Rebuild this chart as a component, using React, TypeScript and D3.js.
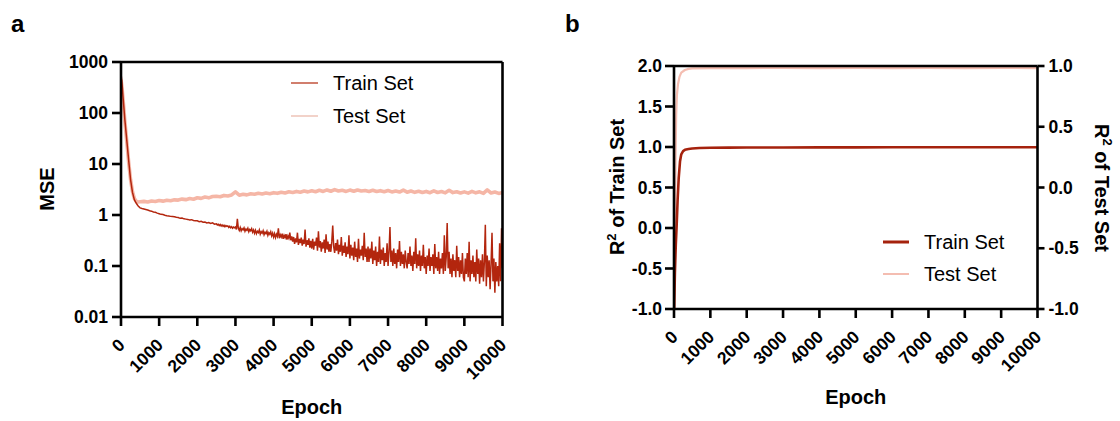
import React from 'react';
import * as d3 from 'd3';

// ---------- tick labels ----------
const epochTicks = [0, 1000, 2000, 3000, 4000, 5000, 6000, 7000, 8000, 9000, 10000];
const mseTicks = [1000, 100, 10, 1, 0.1, 0.01];
const r2LeftTicks = [2, 1.5, 1, 0.5, 0, -0.5, -1];
const r2RightTicks = [1, 0.5, 0, -0.5, -1];

// ---------- panel a: MSE ----------
const mseEarlyEpochs = [0, 25, 50, 75, 100, 150, 200, 250, 300, 350, 400, 450];
const trainMseEarly = [600, 400, 220, 130, 75, 30, 12, 5, 2.8, 2.0, 1.7, 1.5];
const testMseEarly = [450, 330, 200, 120, 70, 28, 11, 5, 2.9, 2.1, 1.85, 1.8];

// train: epoch 500..2450, every 50 epochs
const trainMseMidStart = 500;
const trainMseMidStep = 50;
const trainMseMid = [
  1.38, 1.34, 1.31, 1.28, 1.25, 1.21, 1.19, 1.15, 1.13, 1.09,
  1.06, 1.03, 1.02, 0.99, 0.97, 0.96, 0.94, 0.93, 0.92, 0.90,
  0.89, 0.86, 0.87, 0.84, 0.83, 0.82, 0.80, 0.81, 0.78, 0.77,
  0.77, 0.74, 0.75, 0.72, 0.73, 0.70, 0.71, 0.68, 0.70, 0.66,
];

// train: epoch 2500..10000, every 25 epochs
const trainMseLateStart = 2500;
const trainMseLateStep = 25;
const trainMseLate = [
  0.67, 0.64, 0.66, 0.62, 0.65, 0.61, 0.64, 0.60, 0.63, 0.59, 0.62, 0.60, 0.61, 0.57, 0.60, 0.56, 0.59, 0.55, 0.58, 0.56,
  0.58, 0.52, 0.84, 0.55, 0.50, 0.57, 0.49, 0.54, 0.51, 0.56, 0.48, 0.53, 0.50, 0.55, 0.47, 0.52, 0.49, 0.54, 0.46, 0.51,
  0.44, 0.50, 0.43, 0.48, 0.45, 0.51, 0.42, 0.47, 0.44, 0.49, 0.41, 0.46, 0.43, 0.48, 0.40, 0.45, 0.42, 0.47, 0.39, 0.44,
  0.37, 0.43, 0.36, 0.42, 0.38, 0.55, 0.35, 0.41, 0.37, 0.43, 0.34, 0.40, 0.36, 0.42, 0.33, 0.39, 0.35, 0.45, 0.32, 0.38,
  0.30, 0.37, 0.27, 0.35, 0.29, 0.45, 0.26, 0.34, 0.28, 0.36, 0.25, 0.33, 0.27, 0.52, 0.24, 0.32, 0.26, 0.35, 0.23, 0.31,
  0.22, 0.34, 0.21, 0.30, 0.25, 0.36, 0.20, 0.48, 0.23, 0.31, 0.19, 0.29, 0.22, 0.33, 0.18, 0.42, 0.21, 0.30, 0.19, 0.27,
  0.19, 0.30, 0.62, 0.24, 0.18, 0.28, 0.20, 0.33, 0.17, 0.26, 0.19, 0.37, 0.16, 0.25, 0.18, 0.29, 0.15, 0.24, 0.17, 0.40,
  0.14, 0.26, 0.16, 0.23, 0.13, 0.30, 0.15, 0.22, 0.12, 0.34, 0.14, 0.21, 0.16, 0.25, 0.13, 0.45, 0.15, 0.22, 0.12, 0.24,
  0.12, 0.22, 0.14, 0.30, 0.11, 0.20, 0.13, 0.24, 0.10, 0.19, 0.12, 0.38, 0.11, 0.21, 0.13, 0.23, 0.10, 0.18, 0.12, 0.28,
  0.10, 0.19, 0.58, 0.12, 0.20, 0.10, 0.22, 0.11, 0.18, 0.09, 0.21, 0.12, 0.31, 0.10, 0.19, 0.11, 0.17, 0.09, 0.20, 0.12,
  0.09, 0.18, 0.11, 0.24, 0.10, 0.16, 0.08, 0.19, 0.11, 0.35, 0.09, 0.17, 0.10, 0.20, 0.08, 0.16, 0.10, 0.26, 0.09, 0.15,
  0.07, 0.16, 0.10, 0.22, 0.08, 0.15, 0.10, 0.17, 0.07, 0.27, 0.09, 0.15, 0.08, 0.19, 0.07, 0.14, 0.09, 0.18, 0.07, 0.40,
  0.08, 0.15, 0.70, 0.09, 0.19, 0.07, 0.14, 0.06, 0.17, 0.08, 0.13, 0.06, 0.25, 0.08, 0.15, 0.06, 0.13, 0.07, 0.18, 0.06,
  0.05, 0.14, 0.07, 0.18, 0.06, 0.30, 0.05, 0.13, 0.07, 0.16, 0.06, 0.12, 0.05, 0.21, 0.07, 0.14, 0.045, 0.13, 0.06, 0.17,
  0.05, 0.12, 0.64, 0.04, 0.16, 0.06, 0.13, 0.035, 0.11, 0.45, 0.05, 0.14, 0.03, 0.12, 0.05, 0.10, 0.04, 0.28, 0.05, 0.55,
  0.09,
];

// test: epoch 500..10000, every 100 epochs
const testMseLateStart = 500;
const testMseLateStep = 100;
const testMseLate = [
  1.82, 1.85, 1.80, 1.88, 1.84,
  1.92, 1.87, 1.95, 1.90, 1.98,
  1.96, 2.05, 2.00, 2.10, 2.04,
  2.18, 2.12, 2.25, 2.17, 2.30,
  2.33, 2.28, 2.42, 2.36, 2.47,
  2.85, 2.45, 2.55, 2.48, 2.60,
  2.55, 2.66, 2.58, 2.70, 2.62,
  2.74, 2.66, 2.80, 2.70, 2.85,
  2.76, 2.90, 2.80, 2.95, 2.84,
  2.98, 2.86, 3.05, 2.90, 3.10,
  2.92, 3.15, 2.95, 3.05, 2.90,
  3.08, 2.92, 3.10, 2.95, 3.02,
  2.90, 3.05, 2.88, 3.00, 2.86,
  3.02, 2.84, 2.96, 2.82, 3.08,
  2.80, 2.95, 2.78, 2.92, 2.76,
  2.90, 2.74, 2.98, 2.76, 2.88,
  2.72, 3.05, 2.75, 2.86, 2.70,
  2.84, 2.68, 2.90, 2.72, 2.85,
  2.66, 3.10, 2.70, 2.82, 2.65,
  2.75,
];

// ---------- panel b: R2 ----------
const trainR2Epochs = [0, 25, 50, 75, 100, 130, 165, 200, 250, 300, 400, 500, 700, 1000, 1500, 2000, 3000, 4000, 5000, 6000, 7000, 8000, 9000, 10000];
const trainR2 = [-1.1, -0.55, -0.2, 0.05, 0.35, 0.62, 0.82, 0.91, 0.95, 0.965, 0.975, 0.982, 0.987, 0.99, 0.992, 0.993, 0.994, 0.995, 0.995, 0.996, 0.996, 0.996, 0.997, 0.997];
const testR2Epochs = [0, 20, 40, 60, 80, 110, 150, 200, 300, 400, 500, 1000, 2000, 3000, 4000, 5000, 6000, 7000, 8000, 9000, 10000];
const testR2 = [-1.1, -0.5, 0.2, 0.6, 0.76, 0.85, 0.91, 0.945, 0.967, 0.976, 0.98, 0.983, 0.983, 0.984, 0.983, 0.984, 0.983, 0.984, 0.983, 0.984, 0.983];

const FONT = "'Liberation Sans', Arial, Helvetica, sans-serif";
const TRAIN_A = '#b3260e';
const TEST_A = '#f5b6a6';
const TRAIN_B = '#a5220d';
const TEST_B = '#f4bdb1';
const TICK_FS = 17.5;

type Pt = [number, number];

function zip(e: number[], v: number[]): Pt[] {
  return e.map((x, i) => [x, v[i]] as Pt);
}
function stepped(start: number, step: number, vals: number[]): Pt[] {
  return vals.map((v, i) => [start + i * step, v] as Pt);
}

const fmt1 = (v: number) => v.toFixed(1);

export default function App() {
  // panel a scales
  const ax = d3.scaleLinear().domain([0, 10000]).range([121, 502.5]);
  const ay = d3.scaleLog().domain([0.01, 1000]).range([317, 62]);
  // panel b scales
  const bx = d3.scaleLinear().domain([0, 10000]).range([674, 1037.5]);
  const byL = d3.scaleLinear().domain([-1, 2]).range([309, 66]);
  const byR = d3.scaleLinear().domain([-1, 1]).range([309, 66]);

  const trainA: Pt[] = [
    ...zip(mseEarlyEpochs, trainMseEarly),
    ...stepped(trainMseMidStart, trainMseMidStep, trainMseMid),
    ...stepped(trainMseLateStart, trainMseLateStep, trainMseLate),
  ];
  const testA: Pt[] = [
    ...zip(mseEarlyEpochs, testMseEarly),
    ...stepped(testMseLateStart, testMseLateStep, testMseLate),
  ];

  const lineA = d3.line<Pt>().x((d) => ax(d[0])).y((d) => ay(d[1]));
  const lineBL = d3.line<Pt>().x((d) => bx(d[0])).y((d) => byL(d[1]));
  const lineBR = d3.line<Pt>().x((d) => bx(d[0])).y((d) => byR(d[1]));

  const tickLen = 9;
  const axisW = 2.6;

  const aBottom = ay(0.01);
  const aTop = ay(1000);
  const aLeft = ax(0);
  const aRight = ax(10000);

  const bBottom = byL(-1);
  const bTop = byL(2);
  const bLeft = bx(0);
  const bRight = bx(10000);

  return (
    <svg
      width={1120}
      height={421}
      style={{ position: 'absolute', left: 0, top: 0, background: '#fff' }}
      fontFamily={FONT}
    >
      <defs>
        <clipPath id="clipA">
          <rect x={aLeft} y={aTop} width={aRight - aLeft} height={aBottom - aTop} />
        </clipPath>
        <clipPath id="clipB">
          <rect x={bLeft} y={bTop - 2} width={bRight - bLeft} height={bBottom - bTop + 2} />
        </clipPath>
      </defs>
      <rect x={0} y={0} width={1120} height={421} fill="#fff" />

      {/* ================= panel a ================= */}
      <text x={11} y={32} fontSize={24} fontWeight="bold">a</text>

      <g clipPath="url(#clipA)">
        <path d={lineA(testA) || ''} fill="none" stroke={TEST_A} strokeWidth={3.6} strokeLinejoin="round" />
        <path d={lineA(trainA) || ''} fill="none" stroke={TRAIN_A} strokeWidth={1.5} strokeLinejoin="miter" />
      </g>

      {/* frame */}
      <line x1={aLeft} x2={aRight} y1={aTop} y2={aTop} stroke="#000" strokeWidth={axisW} />
      <line x1={aRight} x2={aRight} y1={aTop} y2={aBottom} stroke="#000" strokeWidth={axisW} />
      <line x1={aLeft} x2={aLeft} y1={aTop} y2={aBottom} stroke="#000" strokeWidth={axisW} />
      <line x1={aLeft} x2={aRight} y1={aBottom} y2={aBottom} stroke="#000" strokeWidth={axisW} />

      {mseTicks.map((t) => (
        <g key={'ay' + t}>
          <line x1={aLeft - tickLen} x2={aLeft} y1={ay(t)} y2={ay(t)} stroke="#000" strokeWidth={axisW} />
          <text x={aLeft - 13} y={ay(t)} dy="0.35em" textAnchor="end" fontSize={TICK_FS} fontWeight="bold">
            {String(t)}
          </text>
        </g>
      ))}
      {epochTicks.map((t) => (
        <g key={'ax' + t}>
          <line x1={ax(t)} x2={ax(t)} y1={aBottom} y2={aBottom + tickLen} stroke="#000" strokeWidth={axisW} />
          <text
            transform={`translate(${ax(t) + 5},${aBottom + 29}) rotate(-45)`}
            textAnchor="end"
            fontSize={TICK_FS}
            fontWeight="bold"
          >
            {String(t)}
          </text>
        </g>
      ))}
      <text x={(aLeft + aRight) / 2} y={414} textAnchor="middle" fontSize={20} fontWeight="bold">Epoch</text>
      <text transform={`translate(47,189) rotate(-90)`} dy="0.35em" textAnchor="middle" fontSize={20} fontWeight="bold">MSE</text>

      {/* legend a */}
      <line x1={291} x2={318} y1={83} y2={83} stroke="#c2533c" strokeWidth={1.5} />
      <text x={333} y={83} dy="0.35em" fontSize={20}>Train Set</text>
      <line x1={291} x2={318} y1={116} y2={116} stroke="#f2d2c9" strokeWidth={2} />
      <text x={333} y={116} dy="0.35em" fontSize={20}>Test Set</text>

      {/* ================= panel b ================= */}
      <text x={565} y={32} fontSize={24} fontWeight="bold">b</text>

      <g clipPath="url(#clipB)">
        <path d={lineBR(zip(testR2Epochs, testR2)) || ''} fill="none" stroke={TEST_B} strokeWidth={2.2} strokeLinejoin="round" />
        <path d={lineBL(zip(trainR2Epochs, trainR2)) || ''} fill="none" stroke={TRAIN_B} strokeWidth={2.6} strokeLinejoin="round" />
      </g>

      <line x1={bLeft} x2={bRight} y1={bTop} y2={bTop} stroke="#000" strokeWidth={axisW} />
      <line x1={bLeft} x2={bLeft} y1={bTop} y2={bBottom} stroke="#000" strokeWidth={axisW} />
      <line x1={bRight} x2={bRight} y1={bTop} y2={bBottom} stroke="#000" strokeWidth={axisW} />
      <line x1={bLeft} x2={bRight} y1={bBottom} y2={bBottom} stroke="#000" strokeWidth={axisW} />

      {r2LeftTicks.map((t) => (
        <g key={'byl' + t}>
          <line x1={bLeft - tickLen} x2={bLeft} y1={byL(t)} y2={byL(t)} stroke="#000" strokeWidth={axisW} />
          <text x={bLeft - 12} y={byL(t)} dy="0.35em" textAnchor="end" fontSize={TICK_FS} fontWeight="bold">
            {fmt1(t)}
          </text>
        </g>
      ))}
      {r2RightTicks.map((t) => (
        <g key={'byr' + t}>
          <line x1={bRight} x2={bRight + 7} y1={byR(t)} y2={byR(t)} stroke="#000" strokeWidth={axisW} />
          <text x={bRight + 11} y={byR(t)} dy="0.35em" textAnchor="start" fontSize={TICK_FS} fontWeight="bold">
            {fmt1(t)}
          </text>
        </g>
      ))}
      {epochTicks.map((t) => (
        <g key={'bx' + t}>
          <line x1={bx(t)} x2={bx(t)} y1={bBottom} y2={bBottom + tickLen} stroke="#000" strokeWidth={axisW} />
          <text
            transform={`translate(${bx(t) + 5},${bBottom + 29}) rotate(-45)`}
            textAnchor="end"
            fontSize={TICK_FS}
            fontWeight="bold"
          >
            {String(t)}
          </text>
        </g>
      ))}
      <text x={(bLeft + bRight) / 2} y={404} textAnchor="middle" fontSize={20} fontWeight="bold">Epoch</text>
      <text transform={`translate(617,187) rotate(-90)`} dy="0.35em" textAnchor="middle" fontSize={20} fontWeight="bold">
        R<tspan fontSize={13} dy="-8">2</tspan><tspan dy="8"> of Train Set</tspan>
      </text>
      <text transform={`translate(1102,188) rotate(90)`} dy="0.35em" textAnchor="middle" fontSize={20} fontWeight="bold">
        R<tspan fontSize={13} dy="-8">2</tspan><tspan dy="8"> of Test Set</tspan>
      </text>

      {/* legend b */}
      <line x1={883} x2={909} y1={242} y2={242} stroke={TRAIN_B} strokeWidth={3} />
      <text x={924} y={242} dy="0.35em" fontSize={20}>Train Set</text>
      <line x1={883} x2={909} y1={274} y2={274} stroke={TEST_B} strokeWidth={2} />
      <text x={924} y={274} dy="0.35em" fontSize={20}>Test Set</text>
    </svg>
  );
}
